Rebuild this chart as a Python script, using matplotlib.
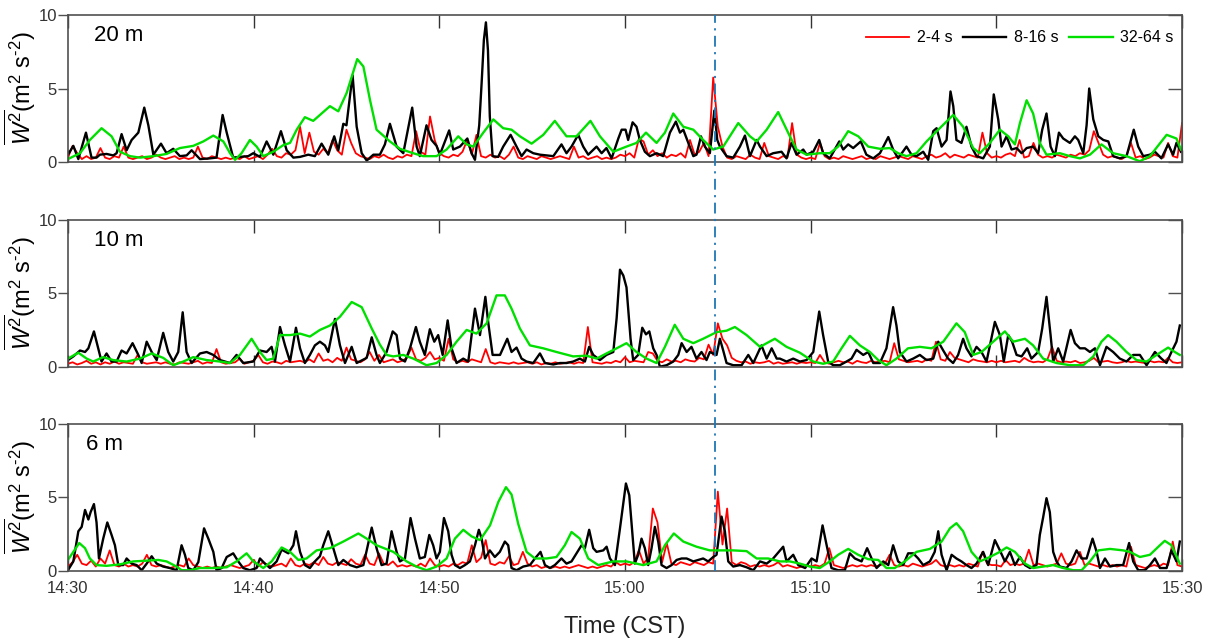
import matplotlib
matplotlib.use("Agg")
import matplotlib.pyplot as plt
import numpy as np
from matplotlib.lines import Line2D
from matplotlib.transforms import blended_transform_factory

plt.rcParams["font.family"] = ["Liberation Sans", "DejaVu Sans"]
plt.rcParams["mathtext.fontset"] = "custom"
plt.rcParams["mathtext.rm"] = "Liberation Sans"
plt.rcParams["mathtext.it"] = "Liberation Sans:italic"

# time is in minutes after 14:30 CST
TICK_MINUTES = [0, 10, 20, 30, 40, 50, 60]
TICK_LABELS = ["14:30", "14:40", "14:50", "15:00", "15:10", "15:20", "15:30"]
EVENT_MINUTE = 34.84  # 15:04:50
HEIGHTS = ["20 m", "10 m", "6 m"]
BANDS = ["2-4 s", "8-16 s", "32-64 s"]
RED_STEP = 0.25  # minutes between 2-4 s samples

# ---------------- 20 m ----------------
red_20m = [
    0.3, 1.1, 0.6, 0.2, 0.4, 0.2, 0.3, 0.95, 0.3, 0.2, 0.4, 0.3, 1.05, 0.3, 0.2, 0.3, 0.4, 0.2, 0.3, 0.5,
    0.3, 0.2, 0.3, 0.4, 0.2, 0.3, 0.2, 0.3, 1.05, 0.3, 0.2, 0.4, 0.3, 0.2, 0.3, 0.2, 0.3, 0.2, 0.4, 0.2,
    0.3, 0.4, 0.2, 0.5, 0.9, 0.4, 0.3, 0.6, 0.5, 0.8, 2.4, 0.6, 2.0, 0.7, 0.5, 0.9, 0.6, 1.5, 0.8, 0.5,
    2.2, 1.3, 0.6, 0.4, 0.3, 0.2, 0.4, 0.3, 0.5, 0.3, 0.2, 0.4, 0.3, 0.5, 0.4, 2.1, 0.7, 0.5, 3.1, 1.5,
    0.6, 0.4, 0.3, 0.5, 0.4, 0.7, 1.5, 0.5, 1.85, 0.4, 0.3, 0.5, 0.3, 0.4, 0.2, 0.5, 1.05, 0.3, 0.2, 0.4,
    0.3, 0.2, 0.4, 0.3, 0.2, 0.3, 0.4, 0.3, 0.2, 1.05, 0.3, 0.4, 0.2, 0.3, 0.4, 0.2, 0.3, 0.2, 0.3, 0.5,
    0.4, 0.6, 0.3, 1.6, 1.4, 0.5, 0.8, 0.4, 0.6, 0.3, 0.5, 0.4, 0.6, 0.3, 1.5, 0.5, 0.7, 1.3, 0.4, 5.75,
    2.4, 1.05, 0.3, 0.2, 0.4, 0.3, 0.2, 0.5, 0.3, 0.2, 1.3, 0.4, 0.3, 0.2, 0.4, 0.3, 2.65, 0.5, 0.3, 0.2,
    0.3, 0.2, 1.3, 0.4, 0.2, 0.3, 0.2, 0.4, 0.3, 0.2, 0.3, 0.4, 0.2, 0.3, 0.2, 0.4, 0.3, 0.2, 0.3, 0.4,
    0.3, 0.2, 0.4, 0.3, 0.2, 0.4, 0.5, 0.3, 0.4, 0.6, 0.3, 0.5, 0.4, 0.3, 0.5, 0.4, 0.3, 2.0, 0.6, 0.3,
    0.4, 0.3, 0.5, 0.6, 0.4, 1.5, 0.3, 0.4, 1.3, 0.5, 0.3, 0.4, 0.3, 0.5, 0.4, 0.3, 0.5, 0.4, 0.6, 0.5,
    0.8, 2.1, 1.3, 0.5, 0.3, 0.4, 0.3, 0.2, 0.4, 1.3, 0.3, 0.4, 0.2, 0.3, 0.5, 0.4, 0.3, 1.3, 0.4, 0.3,
    2.65,
]
black_20m = [
    (0.0, 0.5), (0.29, 1.1), (0.56, 0.2), (0.97, 2.0), (1.27, 0.3), (1.54, 0.3), (1.72, 0.5),
    (2.08, 0.55), (2.44, 0.45), (2.62, 0.6), (2.89, 1.9), (3.16, 0.8), (3.43, 1.5), (3.79, 2.0),
    (4.11, 3.7), (4.33, 2.5), (4.6, 0.5), (5.01, 1.25), (5.31, 0.6), (5.67, 0.9), (6.03, 0.4),
    (6.39, 0.45), (6.66, 0.8), (7.11, 0.2), (7.65, 0.25), (8.0, 0.3), (8.33, 3.2), (8.55, 2.0),
    (8.9, 0.3), (9.26, 0.35), (9.71, 0.4), (9.98, 0.6), (10.34, 0.35), (10.7, 1.4), (11.06, 0.5),
    (11.47, 2.1), (11.78, 0.8), (12.14, 0.3), (12.5, 0.35), (12.94, 0.5), (13.3, 0.4), (13.66, 1.25),
    (14.02, 0.5), (14.34, 1.75), (14.56, 0.8), (14.83, 2.6), (15.0, 2.5), (15.19, 4.5), (15.33, 5.9),
    (15.55, 2.4), (15.82, 0.6), (16.09, 0.1), (16.45, 0.5), (16.8, 0.5), (17.07, 1.2), (17.34, 2.6),
    (17.7, 1.05), (18.06, 0.6), (18.54, 3.7), (18.78, 1.05), (18.95, 0.4), (19.31, 2.5), (19.58, 1.5),
    (19.85, 1.1), (20.03, 0.5), (20.53, 2.15), (20.75, 0.85), (21.11, 1.05), (21.51, 1.6), (21.74, 0.6),
    (21.92, 0.15), (22.15, 2.5), (22.28, 5.4), (22.4, 8.3), (22.51, 9.5), (22.62, 7.6), (22.72, 3.1),
    (22.87, 0.4), (23.17, 0.35), (23.44, 1.05), (23.84, 1.85), (24.16, 1.05), (24.43, 0.4), (24.7, 0.85),
    (25.06, 0.6), (25.42, 0.5), (25.78, 0.45), (26.14, 0.4), (26.58, 1.2), (26.85, 0.6), (27.12, 1.05),
    (27.48, 1.85), (27.75, 1.05), (28.02, 0.5), (28.47, 1.05), (28.74, 0.6), (29.0, 0.95), (29.28, 0.25),
    (29.64, 1.6), (29.82, 2.2), (30.03, 2.2), (30.17, 1.5), (30.41, 2.7), (30.62, 2.4), (30.8, 1.5),
    (31.07, 0.7), (31.34, 0.4), (31.7, 0.6), (32.06, 0.4), (32.42, 2.0), (32.74, 2.75), (32.96, 2.0),
    (33.14, 2.2), (33.41, 1.3), (33.68, 0.4), (33.85, 0.5), (34.09, 1.75), (34.3, 1.05), (34.57, 0.6),
    (34.81, 3.5), (34.97, 1.5), (35.11, 1.05), (35.47, 0.4), (35.83, 0.3), (36.19, 1.05), (36.46, 1.8),
    (36.73, 0.4), (37.09, 1.5), (37.27, 1.05), (37.63, 0.4), (37.98, 0.6), (38.43, 0.7), (38.7, 0.25),
    (38.97, 1.3), (39.24, 0.5), (39.6, 0.85), (39.78, 0.5), (40.14, 0.7), (40.46, 1.5), (40.67, 0.6),
    (41.03, 0.25), (41.54, 1.4), (41.75, 0.85), (42.02, 1.2), (42.29, 0.95), (42.7, 1.4), (43.0, 0.5),
    (43.37, 0.25), (43.73, 0.6), (44.18, 1.7), (44.44, 0.85), (44.71, 0.25), (45.16, 1.05), (45.43, 0.5),
    (45.7, 0.4), (46.06, 0.7), (46.33, 0.15), (46.6, 2.1), (46.78, 2.3), (47.05, 1.05), (47.32, 1.5),
    (47.53, 4.8), (47.68, 3.8), (47.85, 1.5), (48.12, 1.3), (48.39, 2.4), (48.66, 1.05), (48.93, 0.4),
    (49.29, 0.25), (49.65, 1.05), (49.86, 4.6), (50.1, 2.9), (50.28, 1.05), (50.55, 1.75), (50.82, 0.85),
    (51.09, 0.95), (51.36, 0.6), (51.63, 0.95), (51.98, 1.05), (52.25, 0.6), (52.47, 2.2), (52.7, 3.3),
    (52.92, 1.05), (53.15, 0.4), (53.37, 2.0), (53.6, 1.6), (53.96, 1.3), (54.23, 1.75), (54.41, 1.5),
    (54.68, 0.6), (54.86, 2.5), (55.0, 5.0), (55.22, 2.9), (55.49, 1.75), (55.76, 1.5), (56.03, 1.4),
    (56.29, 0.4), (56.65, 0.25), (57.01, 0.4), (57.4, 2.2), (57.64, 1.05), (57.91, 0.4), (58.27, 0.5),
    (58.54, 0.7), (58.89, 0.25), (59.25, 1.2), (59.52, 0.5), (59.7, 1.3), (59.94, 0.7),
]
green_20m = [
    (0.0, 0.2), (0.65, 0.6), (1.18, 1.5), (1.81, 2.3), (2.35, 1.75), (2.8, 0.7), (3.34, 0.4),
    (3.88, 0.3), (4.6, 0.4), (5.31, 0.55), (6.03, 0.95), (6.75, 1.1), (7.29, 1.4), (7.83, 1.8),
    (8.37, 1.4), (8.73, 0.6), (9.0, 0.15), (9.35, 0.6), (9.8, 1.5), (10.16, 1.05), (10.52, 0.4),
    (11.06, 0.7), (11.6, 1.15), (11.96, 1.3), (12.32, 2.2), (12.76, 3.05), (13.21, 2.8), (13.66, 3.3),
    (14.11, 3.8), (14.56, 3.45), (15.01, 4.7), (15.58, 7.0), (15.91, 6.5), (16.27, 4.2), (16.62, 2.2),
    (17.34, 1.4), (17.88, 0.9), (18.59, 0.6), (19.13, 0.4), (19.85, 0.4), (20.39, 0.85), (21.02, 1.75),
    (21.47, 1.2), (21.83, 1.05), (22.37, 2.0), (22.91, 2.9), (23.44, 2.3), (23.89, 2.2), (24.34, 1.75),
    (24.97, 1.25), (25.6, 1.85), (26.22, 2.8), (26.85, 1.75), (27.39, 1.75), (28.14, 2.8), (28.65, 1.75),
    (29.37, 0.7), (30.08, 1.05), (30.62, 1.3), (31.13, 2.0), (31.7, 1.3), (32.15, 2.0), (32.6, 3.3),
    (33.14, 2.4), (33.68, 2.2), (34.21, 1.5), (34.75, 0.85), (35.29, 1.05), (36.1, 2.65), (36.73, 1.75),
    (37.09, 1.4), (37.63, 2.2), (38.25, 3.4), (38.88, 1.75), (39.24, 0.85), (39.78, 0.5), (40.49, 0.6),
    (41.03, 0.6), (41.48, 1.05), (42.02, 2.1), (42.56, 1.75), (43.1, 1.05), (43.73, 0.9), (44.26, 0.95),
    (44.71, 0.6), (45.16, 0.4), (45.7, 0.6), (46.24, 1.4), (46.87, 2.2), (47.68, 3.2), (48.21, 2.4),
    (48.75, 0.95), (49.11, 0.6), (49.65, 1.3), (50.19, 2.2), (50.64, 1.75), (51.0, 1.2), (51.27, 2.65),
    (51.63, 4.2), (51.98, 3.3), (52.34, 1.3), (52.7, 0.5), (53.42, 0.6), (53.96, 0.4), (54.5, 0.25),
    (55.04, 0.5), (55.66, 1.2), (56.29, 0.6), (57.01, 0.4), (57.73, 0.05), (58.27, 0.4), (59.17, 1.85),
    (59.7, 1.6), (59.94, 0.85),
]

# ---------------- 10 m ----------------
red_10m = [
    0.2, 0.3, 0.15, 0.25, 0.4, 0.2, 0.3, 0.15, 0.3, 0.2, 0.35, 0.2, 0.3, 0.25, 0.2, 0.8, 0.3, 0.2, 0.25, 0.3,
    0.2, 0.3, 0.2, 0.15, 0.3, 0.25, 0.2, 0.3, 0.4, 0.2, 0.3, 0.25, 1.2, 0.3, 0.2, 0.25, 0.3, 0.55, 0.2, 0.3,
    0.4, 0.8, 0.3, 0.2, 0.35, 0.3, 0.2, 0.4, 0.3, 0.35, 0.4, 0.3, 0.5, 0.3, 0.9, 0.4, 0.5, 0.3, 0.6, 0.4,
    1.3, 0.5, 0.4, 0.3, 0.5, 1.0, 0.4, 0.8, 0.3, 0.4, 0.5, 0.3, 0.4, 0.6, 1.3, 0.5, 0.4, 0.6, 1.0, 0.5,
    0.6, 0.4, 1.9, 0.5, 0.3, 0.4, 0.3, 0.5, 0.4, 0.3, 1.2, 0.3, 0.2, 0.3, 0.25, 0.2, 0.3, 0.2, 0.25, 0.3,
    0.2, 0.3, 0.15, 0.25, 0.2, 0.3, 0.2, 0.25, 0.3, 0.2, 0.3, 0.25, 2.7, 0.3, 0.25, 0.2, 0.3, 0.25, 0.4, 0.3,
    0.65, 0.3, 0.4, 0.35, 0.3, 1.0, 0.9, 0.4, 0.3, 0.5, 0.35, 0.4, 0.3, 0.5, 0.4, 0.35, 0.6, 0.5, 1.5, 0.8,
    2.95, 1.9, 1.45, 0.6, 0.4, 0.3, 0.35, 0.2, 0.3, 0.25, 0.3, 0.4, 0.2, 0.3, 0.2, 0.25, 0.3, 0.2, 0.3, 0.25,
    0.3, 0.25, 0.8, 0.3, 0.2, 0.3, 0.4, 0.3, 0.35, 0.2, 0.4, 0.3, 0.25, 0.4, 0.3, 0.35, 0.4, 0.3, 1.6, 0.5,
    0.4, 0.3, 0.35, 0.4, 0.3, 0.5, 0.4, 1.7, 0.5, 0.4, 1.0, 0.6, 0.5, 0.4, 0.3, 0.5, 0.4, 0.35, 0.3, 0.4,
    0.3, 0.4, 0.3, 0.35, 0.4, 0.3, 0.6, 0.4, 0.3, 0.35, 0.3, 0.5, 1.35, 0.4, 0.3, 0.35, 0.3, 0.4, 0.25, 0.3,
    0.4, 0.6, 0.3, 0.35, 0.4, 0.3, 0.25, 0.3, 0.4, 0.3, 0.35, 0.3, 0.25, 0.4, 0.3, 0.35, 0.3, 0.6, 0.3, 0.25,
    0.3,
]
black_10m = [
    (0.0, 0.45), (0.29, 0.7), (0.65, 1.1), (0.92, 1.0), (1.1, 1.25), (1.4, 2.4), (1.63, 1.25),
    (1.81, 0.35), (2.08, 0.9), (2.35, 0.35), (2.62, 0.35), (2.89, 1.1), (3.16, 0.9), (3.48, 1.6),
    (3.79, 0.8), (3.97, 0.25), (4.24, 1.7), (4.51, 1.0), (4.78, 0.45), (5.13, 2.3), (5.4, 1.0),
    (5.67, 0.35), (5.94, 1.0), (6.18, 3.7), (6.39, 1.0), (6.66, 0.25), (7.11, 0.9), (7.47, 1.0),
    (7.83, 0.8), (8.19, 0.45), (8.73, 0.25), (9.08, 0.8), (9.44, 0.25), (9.98, 0.35), (10.34, 1.1),
    (10.7, 1.0), (10.97, 1.35), (11.15, 0.35), (11.42, 2.7), (11.69, 1.45), (11.96, 0.35), (12.28, 2.65),
    (12.5, 1.25), (12.76, 0.25), (13.03, 0.8), (13.3, 1.45), (13.57, 1.7), (13.84, 1.45), (14.02, 1.0),
    (14.38, 3.25), (14.65, 1.45), (14.92, 0.25), (15.28, 1.35), (15.55, 0.25), (16.09, 0.6), (16.36, 2.0),
    (16.62, 0.8), (16.8, 0.25), (17.16, 1.0), (17.49, 2.4), (17.7, 2.15), (17.88, 0.55), (18.15, 0.35),
    (18.42, 1.25), (18.74, 2.7), (18.95, 1.7), (19.22, 0.8), (19.49, 2.55), (19.73, 1.7), (19.94, 2.15),
    (20.18, 0.8), (20.45, 3.15), (20.66, 1.25), (20.93, 0.25), (21.29, 0.55), (21.56, 0.35), (21.92, 3.95),
    (22.19, 2.15), (22.48, 4.75), (22.63, 3.05), (22.87, 0.8), (23.27, 0.8), (23.66, 1.9), (23.89, 1.0),
    (24.16, 1.3), (24.43, 0.55), (24.7, 0.35), (25.06, 0.25), (25.42, 0.9), (25.69, 0.25), (26.14, 0.15),
    (26.5, 0.25), (26.85, 0.25), (27.21, 0.35), (27.57, 0.55), (27.84, 0.35), (28.07, 1.35), (28.29, 0.8),
    (28.65, 0.45), (29.0, 0.8), (29.37, 1.0), (29.55, 3.3), (29.73, 6.6), (29.91, 6.2), (30.08, 5.4),
    (30.17, 3.95), (30.3, 1.9), (30.44, 0.45), (30.71, 0.8), (30.93, 2.65), (31.13, 2.2), (31.31, 2.4),
    (31.52, 1.25), (31.7, 0.8), (31.88, 0.0), (32.24, 0.1), (32.6, 0.35), (32.87, 0.8), (33.05, 1.6),
    (33.32, 1.0), (33.58, 1.35), (33.85, 0.55), (34.12, 1.0), (34.39, 0.45), (34.57, 1.0), (34.75, 0.9),
    (34.93, 0.8), (35.11, 1.9), (35.29, 1.1), (35.47, 0.25), (35.83, 0.1), (36.28, 0.1), (36.64, 0.8),
    (36.91, 0.25), (37.35, 1.45), (37.63, 0.55), (37.9, 1.25), (38.17, 0.55), (38.34, 0.55), (38.7, 0.35),
    (39.06, 0.55), (39.42, 0.35), (39.78, 0.45), (40.14, 1.0), (40.46, 3.75), (40.67, 2.15), (40.94, 0.35),
    (41.21, 0.1), (41.57, 0.1), (41.93, 0.35), (42.2, 0.55), (42.47, 1.15), (42.83, 0.8), (43.1, 1.0),
    (43.37, 0.25), (43.73, 0.25), (44.08, 1.25), (44.44, 4.05), (44.62, 2.8), (44.8, 1.0), (45.16, 0.35),
    (45.52, 0.55), (45.88, 0.8), (46.24, 0.45), (46.6, 0.55), (46.87, 1.7), (47.14, 1.1), (47.4, 0.55),
    (47.67, 0.25), (47.94, 0.8), (48.21, 1.9), (48.39, 1.25), (48.66, 0.7), (48.93, 1.35), (49.2, 1.0),
    (49.47, 0.35), (49.92, 3.05), (50.19, 2.15), (50.4, 0.35), (50.64, 2.15), (50.85, 1.7), (51.09, 0.8),
    (51.36, 0.7), (51.66, 1.25), (51.89, 0.55), (52.25, 1.0), (52.47, 2.6), (52.7, 4.75), (52.92, 2.15),
    (53.06, 0.35), (53.33, 1.25), (53.6, 0.35), (54.0, 2.5), (54.23, 1.6), (54.5, 1.25), (54.77, 1.25),
    (55.04, 1.0), (55.31, 1.25), (55.58, 0.1), (55.93, 1.35), (56.29, 1.0), (56.65, 0.55), (57.01, 0.35),
    (57.37, 0.8), (57.73, 0.8), (58.09, 0.1), (58.54, 1.0), (58.89, 0.55), (59.16, 0.25), (59.43, 1.0),
    (59.7, 1.7), (59.88, 2.8),
]
green_10m = [
    (0.0, 0.55), (0.56, 0.95), (1.01, 0.55), (1.36, 0.35), (1.9, 0.65), (2.44, 0.45), (3.16, 0.35),
    (3.88, 0.55), (4.51, 0.9), (5.13, 0.6), (5.67, 0.1), (6.21, 0.35), (6.75, 0.65), (7.47, 0.45),
    (8.19, 0.35), (8.73, 0.25), (9.26, 0.8), (9.89, 1.9), (10.34, 1.0), (10.7, 0.45), (11.06, 0.55),
    (11.42, 2.15), (11.96, 2.15), (12.5, 2.25), (13.03, 2.05), (13.57, 2.5), (14.11, 2.8), (14.65, 3.4),
    (15.28, 4.4), (15.82, 4.05), (16.36, 2.6), (16.8, 1.5), (17.16, 0.8), (17.52, 0.7), (18.06, 0.8),
    (18.6, 0.55), (19.31, 0.1), (19.85, 0.25), (20.39, 0.8), (20.93, 1.7), (21.47, 2.5), (22.0, 2.25),
    (22.55, 2.95), (23.08, 4.85), (23.53, 4.85), (23.89, 3.95), (24.34, 2.6), (24.88, 1.45), (25.6, 1.25),
    (26.31, 1.0), (27.21, 0.7), (27.93, 0.75), (28.47, 0.55), (29.0, 0.9), (29.55, 1.25), (30.08, 1.6),
    (30.62, 1.0), (31.16, 0.55), (31.7, 0.25), (32.15, 1.35), (32.68, 2.85), (33.14, 1.9), (33.68, 1.6),
    (34.21, 1.9), (34.93, 2.35), (35.47, 2.45), (35.92, 2.7), (36.55, 2.15), (37.27, 1.35), (38.07, 1.9),
    (38.7, 1.35), (39.42, 0.95), (40.14, 0.35), (40.67, 0.2), (41.21, 0.35), (41.66, 1.25), (42.11, 2.1),
    (42.65, 1.45), (43.19, 1.0), (43.64, 0.45), (44.08, 0.1), (44.62, 0.55), (45.24, 1.25), (45.88, 1.35),
    (46.51, 1.25), (47.14, 1.7), (47.85, 2.95), (48.3, 2.35), (48.75, 0.8), (49.2, 1.0), (49.83, 1.7),
    (50.46, 2.4), (50.91, 1.7), (51.54, 1.9), (51.98, 1.45), (52.52, 0.55), (53.24, 0.25), (53.96, 0.1),
    (54.68, 0.1), (55.22, 0.7), (55.66, 1.7), (56.02, 2.15), (56.47, 1.7), (57.01, 1.0), (57.55, 0.45),
    (58.09, 0.35), (58.63, 0.8), (59.25, 1.3), (59.61, 1.0), (59.88, 0.8),
]

# ---------------- 6 m ----------------
red_6m = [
    0.3, 0.6, 1.1, 0.5, 0.4, 0.7, 0.3, 0.85, 0.5, 1.4, 0.4, 0.3, 0.5, 0.3, 0.4, 0.3, 0.5, 1.1, 0.4, 0.3,
    0.4, 0.3, 0.2, 0.3, 0.4, 0.3, 0.85, 0.4, 0.3, 0.2, 0.3, 0.2, 0.3, 0.2, 0.3, 0.4, 0.3, 0.2, 0.3, 0.4,
    0.75, 0.3, 0.6, 0.4, 0.3, 0.4, 0.5, 0.3, 0.85, 0.4, 0.3, 0.5, 0.4, 0.6, 0.4, 0.95, 0.5, 0.4, 0.6, 0.5,
    0.4, 0.8, 0.5, 0.4, 1.1, 0.5, 0.4, 1.2, 0.5, 0.4, 0.65, 0.3, 0.4, 0.3, 0.4, 0.3, 0.5, 0.3, 0.85, 0.4,
    0.3, 0.4, 0.3, 0.5, 0.4, 0.6, 0.5, 1.75, 0.6, 0.9, 2.1, 0.5, 0.4, 0.6, 0.5, 1.0, 0.4, 0.5, 1.3, 0.5,
    0.3, 0.4, 0.2, 0.3, 0.2, 0.3, 0.2, 0.3, 0.2, 0.3, 0.4, 0.3, 0.2, 0.3, 0.2, 0.3, 0.4, 0.3, 0.6, 0.4,
    0.5, 0.4, 0.6, 1.4, 0.5, 0.9, 4.25, 3.3, 0.6, 1.9, 0.5, 0.4, 0.6, 0.5, 0.4, 0.6, 0.5, 0.4, 0.6, 0.5,
    5.4, 1.8, 4.25, 0.6, 0.4, 0.6, 0.5, 0.3, 0.4, 0.3, 0.4, 0.3, 0.4, 0.6, 0.3, 0.4, 0.3, 0.2, 0.3, 0.4,
    0.3, 0.4, 0.3, 0.5, 1.55, 0.4, 0.3, 0.2, 0.3, 0.4, 0.3, 0.4, 0.3, 0.4, 0.3, 0.4, 0.5, 1.1, 0.4, 0.3,
    0.4, 0.3, 0.5, 0.4, 0.3, 0.4, 0.5, 0.75, 0.4, 0.3, 0.4, 0.3, 0.4, 0.3, 0.5, 0.4, 0.3, 1.3, 0.5, 0.4,
    0.4, 0.3, 0.75, 0.4, 0.5, 0.4, 0.5, 1.45, 0.4, 0.5, 0.4, 0.3, 0.4, 0.5, 1.2, 0.5, 0.4, 0.5, 1.3, 0.4,
    0.5, 0.4, 0.3, 0.4, 0.3, 0.4, 0.3, 0.4, 0.3, 1.65, 0.4, 0.3, 0.2, 0.3, 0.4, 0.3, 0.5, 0.4, 2.0, 0.4,
    0.3,
]
black_6m = [
    (0.0, 0.05), (0.29, 0.65), (0.56, 2.7), (0.74, 3.0), (0.92, 4.15), (1.1, 3.5), (1.22, 4.0),
    (1.4, 4.55), (1.54, 3.3), (1.67, 0.85), (1.9, 2.2), (2.12, 3.3), (2.35, 2.45), (2.53, 1.75),
    (2.71, 0.4), (2.98, 0.4), (3.16, 0.85), (3.43, 0.5), (3.7, 0.4), (3.97, 0.05), (4.24, 0.5),
    (4.51, 1.0), (4.78, 0.5), (5.13, 0.3), (5.49, 0.2), (5.85, 0.05), (6.12, 1.75), (6.3, 1.1),
    (6.48, 0.2), (6.75, 0.05), (7.02, 0.6), (7.33, 2.9), (7.56, 2.2), (7.83, 1.3), (8.0, 0.05),
    (8.28, 0.2), (8.55, 0.95), (8.9, 1.2), (9.17, 0.65), (9.44, 0.2), (9.8, 0.05), (10.16, 0.2),
    (10.34, 0.85), (10.61, 0.5), (10.88, 0.2), (11.24, 0.65), (11.51, 1.45), (11.87, 1.2), (12.14, 1.75),
    (12.28, 2.7), (12.5, 1.3), (12.76, 0.4), (13.03, 0.2), (13.3, 0.65), (13.57, 1.0), (13.75, 1.75),
    (14.02, 2.7), (14.29, 1.55), (14.56, 0.4), (14.83, 0.75), (15.19, 0.4), (15.55, 0.25), (15.91, 0.4),
    (16.09, 1.4), (16.36, 2.95), (16.62, 1.55), (16.89, 0.4), (17.16, 0.5), (17.43, 2.7), (17.7, 1.3),
    (17.88, 0.65), (18.15, 0.85), (18.45, 3.6), (18.69, 2.2), (18.95, 0.85), (19.22, 0.95), (19.46, 2.45),
    (19.67, 1.75), (19.85, 0.85), (20.03, 1.3), (20.25, 3.6), (20.48, 2.7), (20.66, 1.1), (20.84, 0.4),
    (21.11, 0.2), (21.38, 0.4), (21.65, 0.65), (21.92, 1.75), (22.13, 2.8), (22.28, 2.2), (22.46, 0.85),
    (22.72, 1.4), (22.99, 0.95), (23.26, 1.3), (23.53, 2.0), (23.71, 1.75), (23.89, 0.2), (24.16, 0.05),
    (24.52, 0.3), (24.88, 0.4), (25.15, 0.85), (25.45, 1.3), (25.69, 0.4), (25.96, 0.2), (26.22, 0.4),
    (26.58, 0.85), (26.85, 0.5), (27.12, 0.65), (27.39, 1.2), (27.66, 1.75), (27.84, 1.55), (28.07, 2.8),
    (28.29, 1.55), (28.47, 1.3), (28.83, 1.4), (29.01, 1.65), (29.19, 0.85), (29.46, 0.4), (29.73, 2.9),
    (30.05, 5.95), (30.23, 5.15), (30.39, 2.7), (30.53, 0.5), (30.71, 1.1), (30.89, 2.2), (31.07, 1.55),
    (31.25, 0.4), (31.43, 1.55), (31.61, 3.0), (31.79, 2.0), (31.97, 0.4), (32.24, 0.2), (32.51, 0.4),
    (32.78, 0.75), (33.05, 0.85), (33.32, 0.85), (33.68, 0.65), (33.95, 0.75), (34.21, 0.85), (34.48, 0.65),
    (34.75, 0.95), (34.93, 1.1), (35.2, 3.7), (35.38, 2.7), (35.56, 0.65), (35.83, 0.3), (36.19, 0.4),
    (36.55, 0.25), (36.91, 0.05), (37.27, 0.65), (37.63, 0.5), (37.98, 0.85), (38.52, 1.65), (38.7, 0.65),
    (39.06, 1.1), (39.33, 0.4), (39.7, 0.2), (40.05, 0.85), (40.32, 0.65), (40.64, 3.1), (40.86, 1.75),
    (41.12, 0.2), (41.48, 0.05), (41.84, 0.05), (42.11, 1.2), (42.38, 0.85), (42.74, 0.65), (43.04, 1.55),
    (43.28, 0.85), (43.55, 0.2), (43.91, 0.65), (44.18, 0.4), (44.44, 1.75), (44.71, 0.65), (44.98, 0.4),
    (45.25, 1.2), (45.52, 1.2), (45.79, 0.85), (46.06, 0.4), (46.42, 0.65), (46.68, 1.3), (46.87, 2.7),
    (47.05, 1.1), (47.32, 0.05), (47.59, 1.1), (47.85, 0.85), (48.12, 0.65), (48.39, 0.4), (48.66, 0.2),
    (48.93, 0.5), (49.29, 1.3), (49.56, 0.4), (49.92, 2.1), (50.19, 1.4), (50.46, 0.65), (50.73, 1.3),
    (51.0, 0.4), (51.27, 0.95), (51.54, 0.4), (51.81, 0.2), (52.16, 0.4), (52.34, 2.45), (52.52, 3.65),
    (52.7, 4.95), (52.88, 4.0), (53.06, 1.3), (53.24, 0.65), (53.42, 0.3), (53.78, 0.2), (54.05, 0.65),
    (54.32, 1.4), (54.59, 0.85), (54.86, 0.85), (55.18, 2.2), (55.4, 1.3), (55.58, 0.2), (55.85, 0.85),
    (56.12, 0.3), (56.47, 0.4), (56.83, 0.4), (57.15, 1.9), (57.37, 0.65), (57.64, 0.05), (58.0, 0.05),
    (58.27, 0.4), (58.54, 0.85), (58.81, 0.2), (59.17, 0.2), (59.43, 1.4), (59.7, 0.65), (59.88, 2.0),
]
green_6m = [
    (0.0, 0.75), (0.29, 1.3), (0.61, 1.9), (0.92, 1.55), (1.18, 0.85), (1.54, 0.4), (2.08, 0.35),
    (2.8, 0.45), (3.52, 0.65), (4.24, 0.7), (4.87, 0.75), (5.31, 0.65), (5.85, 0.3), (6.12, 0.05),
    (6.57, 0.05), (7.11, 0.2), (7.83, 0.2), (8.55, 0.25), (9.08, 0.65), (9.62, 1.2), (9.98, 0.65),
    (10.52, 0.2), (10.97, 0.65), (11.51, 1.6), (11.96, 1.3), (12.41, 0.75), (12.85, 0.85), (13.39, 1.4),
    (14.11, 1.55), (14.83, 2.0), (15.64, 2.55), (16.09, 2.2), (16.62, 1.75), (17.52, 1.3), (18.24, 0.65),
    (18.77, 0.3), (19.31, 0.05), (19.85, 0.3), (20.39, 0.85), (20.84, 2.2), (21.29, 2.8), (21.74, 2.35),
    (22.19, 2.1), (22.73, 3.1), (23.18, 4.7), (23.59, 5.7), (23.89, 5.2), (24.25, 3.2), (24.7, 1.3),
    (25.15, 0.85), (25.78, 0.85), (26.31, 0.95), (26.76, 1.75), (27.12, 2.65), (27.57, 2.2), (28.02, 0.85),
    (28.56, 0.4), (29.37, 0.65), (30.08, 0.65), (30.98, 0.4), (31.7, 0.65), (32.15, 1.75), (32.63, 2.55),
    (33.14, 2.0), (33.85, 1.65), (34.57, 1.4), (35.11, 1.4), (35.83, 1.4), (36.55, 1.35), (37.09, 0.85),
    (37.71, 0.85), (38.34, 0.65), (38.88, 0.65), (39.42, 0.5), (39.96, 0.3), (40.49, 0.2), (41.03, 0.65),
    (41.48, 1.1), (42.02, 1.5), (42.56, 1.1), (43.1, 0.8), (43.64, 0.75), (44.08, 0.2), (44.53, 0.2),
    (45.07, 0.65), (45.7, 1.3), (46.42, 1.5), (47.05, 2.0), (47.5, 2.9), (47.85, 3.25), (48.21, 2.7),
    (48.66, 1.3), (49.11, 0.65), (49.65, 0.95), (50.19, 1.3), (50.55, 1.6), (51.0, 1.3), (51.54, 0.5),
    (51.98, 0.2), (52.52, 0.3), (53.06, 0.4), (53.6, 0.2), (54.14, 0.05), (54.59, 0.05), (55.04, 0.65),
    (55.49, 1.4), (56.12, 1.5), (56.83, 1.4), (57.19, 1.3), (57.73, 0.95), (58.27, 1.1), (58.81, 1.75),
    (59.07, 2.05), (59.43, 1.75), (59.88, 0.5),
]

COLORS = ["#ff0000", "#000000", "#00e000"]
WIDTHS = [1.3, 1.7, 1.7]
AXES_LEFT, AXES_WIDTH, AXES_HEIGHT = 0.0562, 0.9215, 0.2283
PANEL_BOTTOMS = [0.7484, 0.4306, 0.1134]
LABEL_X = [0.023, 0.023, 0.016]
SPINE = "#505050"
YLABEL = r"$\overline{W^{2}}$(m$^{2}$ s$^{\text{-}2}$)"

panels = [
    (red_20m, black_20m, green_20m),
    (red_10m, black_10m, green_10m),
    (red_6m, black_6m, green_6m),
]

fig = plt.figure(figsize=(12.09, 6.44), dpi=100)
axes = []
for i, (red, black, green) in enumerate(panels):
    ax = fig.add_axes([AXES_LEFT, PANEL_BOTTOMS[i], AXES_WIDTH, AXES_HEIGHT])
    axes.append(ax)

    t_red = np.arange(len(red)) * RED_STEP
    t_black, w_black = zip(*black)
    t_green, w_green = zip(*green)
    ax.plot(t_red, red, color=COLORS[0], lw=WIDTHS[0], label=BANDS[0])
    ax.plot(t_black, w_black, color=COLORS[1], lw=WIDTHS[1], label=BANDS[1])
    ax.plot(t_green, w_green, color=COLORS[2], lw=WIDTHS[2], label=BANDS[2])

    ax.set_xlim(0, 60)
    ax.set_ylim(0, 10)
    ax.set_xticks(TICK_MINUTES)
    ax.set_xticklabels(TICK_LABELS)
    ax.set_yticks([0, 5, 10])
    ax.tick_params(axis="x", direction="in", top=True, length=9, width=1.0,
                   color="#333333", labelsize=12, pad=7, labelcolor="#333333",
                   labelbottom=(i == 2))
    ax.tick_params(axis="y", direction="out", length=7, width=1.0, color=SPINE,
                   labelsize=12, pad=1, labelcolor="#333333")
    right = ax.secondary_yaxis("right")
    right.set_yticks([0, 5, 10])
    right.tick_params(direction="in", length=10, width=1.0, color=SPINE, labelright=False)
    right.spines["right"].set_color(SPINE)
    for side in ax.spines.values():
        side.set_color(SPINE)
        side.set_linewidth(1.2)

    ax.set_ylabel(YLABEL, fontsize=17)
    ax.yaxis.set_label_coords(-0.027, 0.5)
    ax.text(LABEL_X[i], 0.93, HEIGHTS[i], transform=ax.transAxes,
            fontsize=16, ha="left", va="top")

axes[0].legend(loc="center right", bbox_to_anchor=(0.992, 0.845), ncol=3, frameon=False,
               fontsize=11.5, handlelength=2.7, handletextpad=0.45, columnspacing=0.7,
               borderaxespad=0, borderpad=0)

# dash-dot marker through all three panels
trans = blended_transform_factory(axes[2].transData, fig.transFigure)
fig.add_artist(Line2D([EVENT_MINUTE, EVENT_MINUTE],
                      [PANEL_BOTTOMS[2], PANEL_BOTTOMS[0] + AXES_HEIGHT],
                      transform=trans, color="#1f77b4", lw=1.3, ls=(0, (6, 3, 1.2, 3))))

fig.text(AXES_LEFT + AXES_WIDTH / 2, 0.027, "Time (CST)", fontsize=17,
         ha="center", va="center", color="#222222")

fig.savefig("out.png", dpi=100)
